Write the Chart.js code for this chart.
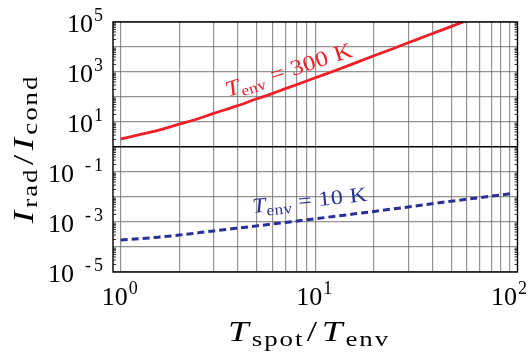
<!DOCTYPE html>
<html><head><meta charset="utf-8">
<script src="https://cdn.jsdelivr.net/npm/chart.js@4/dist/chart.umd.min.js"></script>
<style>html,body{margin:0;padding:0;background:#fff}#wrap{width:531px;height:355px}</style>
</head><body><div id="wrap"><canvas id="c" width="531" height="355"></canvas></div>
<script>
// grid tick values
const xTicks = [1,2,3,4,5,6,7,8,9,10,20,30,40,50,60,70,80,90,100];
const yTicks = [1e-5,1e-4,1e-3,1e-2,1e-1,1,1e1,1e2,1e3,1e4,1e5];
// labelled exponents
const xLabelExps = [0,1,2];
const yLabelExps = [-5,-3,-1,1,3,5];
// T_env = 300 K curve
const redX = [1,1.25,1.5,2,2.5,3,4,5,6,7,8,10,12,15,20,25,30,40,50,60];
const redY = [2.1,3.1,4.3,8.2,13.5,22,45,85,137,215,310,590,980,1880,4450,8550,14700,34500,67000,115000];
// T_env = 10 K curve
const blueX = [1,1.5,2,3,5,7,10,15,20,30,50,70,100];
const blueY = [1.9e-4,2.4e-4,3.0e-4,4.4e-4,7.0e-4,9.6e-4,1.35e-3,2.0e-3,2.65e-3,4.0e-3,6.8e-3,9.4e-3,1.35e-2];

const SERIF = '"Liberation Serif", "Times New Roman", serif';
const RED = 'rgb(240,30,38)';
const BLUE = 'rgb(40,48,150)';

function drawRich(ctx, parts, x, y, align, stretch, spacing) {
  const s = stretch || 1;
  ctx.save();
  if ('letterSpacing' in ctx) ctx.letterSpacing = (spacing || 0) + 'px';
  let w = 0;
  parts.forEach(p => { ctx.font = p.font; p.w = ctx.measureText(p.t).width; w += p.w + (p.dx || 0); });
  let sx = align === 'right' ? -w : align === 'center' ? -w / 2 : 0;
  ctx.translate(x, y);
  ctx.scale(s, 1);
  parts.forEach(p => {
    ctx.font = p.font;
    sx += (p.dx || 0);
    ctx.fillText(p.t, sx, (p.dy || 0));
    sx += p.w;
  });
  ctx.restore();
}

function powParts(e) {
  const main = '26px ' + SERIF, sup = '18px ' + SERIF;
  if (e < 0) {
    return [{t:'10', font:main}, {t:'-', font:sup, dx:11, dy:-11}, {t:String(-e), font:sup, dx:3, dy:-11}];
  }
  return [{t:'10', font:main}, {t:String(e), font:sup, dx:1, dy:-11}];
}

const overlay = {
  id: 'overlay',
  afterDraw(chart) {
    const ctx = chart.ctx, a = chart.chartArea;
    const xs = chart.scales.x, ys = chart.scales.y;
    ctx.save();
    // minor ticks on y at left/right frame
    ctx.strokeStyle = '#000'; ctx.lineWidth = 0.8;
    for (let e = -5; e < 5; e++) {
      for (let m = 2; m <= 9; m++) {
        const py = ys.getPixelForValue(m * Math.pow(10, e));
        ctx.beginPath();
        ctx.moveTo(a.left, py); ctx.lineTo(a.left + 3, py);
        ctx.moveTo(a.right, py); ctx.lineTo(a.right - 3, py);
        ctx.stroke();
      }
    }
    // frame
    ctx.lineWidth = 1.4; ctx.strokeStyle = '#000';
    ctx.strokeRect(a.left, a.top, a.right - a.left, a.bottom - a.top);
    // tick labels
    ctx.fillStyle = '#000'; ctx.textBaseline = 'alphabetic'; ctx.textAlign = 'left';
    yLabelExps.forEach(e => {
      const py = ys.getPixelForValue(Math.pow(10, e));
      drawRich(ctx, powParts(e), a.left - 10, py + 9.5, 'right');
    });
    xLabelExps.forEach(e => {
      const px = xs.getPixelForValue(Math.pow(10, e));
      drawRich(ctx, powParts(e), px - 1, a.bottom + 33, 'center');
    });
    // axis titles
    const big = 'italic 29px ' + SERIF, rm = '29px ' + SERIF, sub = '21px ' + SERIF;
    drawRich(ctx, [
      {t:'T', font:big}, {t:'spot', font:sub, dx:1, dy:5},
      {t:'/', font:rm, dx:2}, {t:'T', font:big, dx:2}, {t:'env', font:sub, dx:1, dy:5}
    ], 309, a.bottom + 69, 'center', 1.28, 1.5);
    ctx.save();
    ctx.translate(33, 149);
    ctx.rotate(-Math.PI / 2);
    drawRich(ctx, [
      {t:'I', font:big}, {t:'rad', font:sub, dx:1, dy:4},
      {t:'/', font:rm, dx:2}, {t:'I', font:big, dx:2}, {t:'cond', font:sub, dx:1, dy:4}
    ], 0, 0, 'center', 1.28, 1.5);
    ctx.restore();
    // curve annotations
    ctx.save();
    ctx.fillStyle = RED;
    ctx.translate(228, 97);
    ctx.rotate(-18 * Math.PI / 180);
    drawRich(ctx, [
      {t:'T', font:'italic 22px ' + SERIF}, {t:'env', font:'15px ' + SERIF, dx:0, dy:4},
      {t:' = 300 K', font:'22px ' + SERIF}
    ], 0, 0, 'left', 1.15, 0.3);
    ctx.restore();
    ctx.save();
    ctx.fillStyle = BLUE;
    ctx.translate(253, 213);
    ctx.rotate(-6 * Math.PI / 180);
    drawRich(ctx, [
      {t:'T', font:'italic 21px ' + SERIF}, {t:'env', font:'15px ' + SERIF, dx:0, dy:4},
      {t:' = 10 K', font:'21px ' + SERIF}
    ], 0, 0, 'left', 1.15, 0.3);
    ctx.restore();
    ctx.restore();
  }
};

const gridGray = 'rgba(110,110,110,0.75)';

new Chart(document.getElementById('c'), {
  type: 'line',
  data: {
    datasets: [
      { data: redX.map((x, i) => ({x, y: redY[i]})), borderColor: RED, borderWidth: 2.8,
        pointRadius: 0, cubicInterpolationMode: 'monotone', fill: false },
      { data: blueX.map((x, i) => ({x, y: blueY[i]})), borderColor: BLUE, borderWidth: 3,
        borderDash: [7, 4], pointRadius: 0, cubicInterpolationMode: 'monotone', fill: false }
    ]
  },
  options: {
    responsive: false, animation: false, devicePixelRatio: 1,
    layout: { padding: { left: 113, right: 13.5, top: 22, bottom: 83 } },
    plugins: { legend: { display: false }, tooltip: { enabled: false } },
    scales: {
      x: {
        type: 'logarithmic', min: 0.913, max: 109.3,
        afterBuildTicks: s => { s.ticks = xTicks.map(v => ({value: v})); },
        ticks: { display: false, callback: () => '' },
        grid: { color: gridGray, lineWidth: 1.2, drawTicks: false },
        border: { display: false }
      },
      y: {
        type: 'logarithmic', min: 1e-5, max: 1e5,
        afterBuildTicks: s => { s.ticks = yTicks.map(v => ({value: v})); },
        ticks: { display: false, callback: () => '' },
        grid: { color: c => (c.tick && c.tick.value === 1) ? '#000' : gridGray,
                lineWidth: c => (c.tick && c.tick.value === 1) ? 1.4 : 1.2, drawTicks: false },
        border: { display: false }
      }
    }
  },
  plugins: [overlay]
});
</script></body></html>
